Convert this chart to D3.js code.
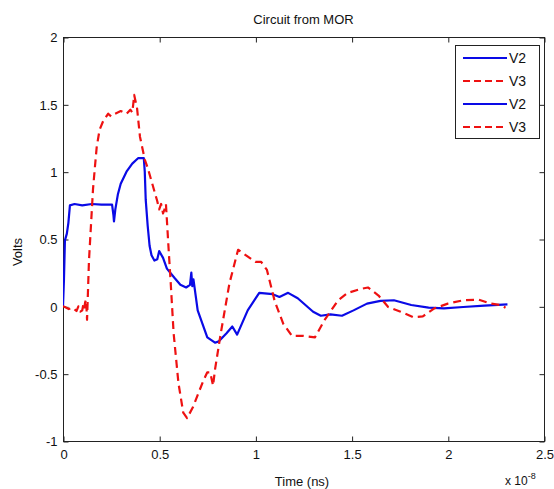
<!DOCTYPE html>
<html>
<head>
<meta charset="utf-8">
<script src="https://cdn.jsdelivr.net/npm/d3@7"></script>
<style>
  html, body { margin: 0; padding: 0; background: #fff; }
  svg text { font-family: "Liberation Sans", Arial, sans-serif; fill: #111; }
</style>
</head>
<body>
<svg id="chart" width="554" height="489"></svg>
<script>
// Time values are in units of 1e-8 s (the axis multiplier shown at bottom right).
const xTicks = [0, 0.5, 1, 1.5, 2, 2.5];
const xTickLabels = ["0", "0.5", "1", "1.5", "2", "2.5"];
const yTicks = [-1, -0.5, 0, 0.5, 1, 1.5, 2];
const yTickLabels = ["-1", "-0.5", "0", "0.5", "1", "1.5", "2"];

const v2Time = [0, 0.005, 0.01, 0.02, 0.028, 0.036, 0.06, 0.1, 0.15, 0.2, 0.255, 0.262, 0.265, 0.272,
  0.285, 0.3, 0.33, 0.36, 0.39, 0.42, 0.425, 0.43, 0.44, 0.45, 0.46, 0.475, 0.49, 0.5, 0.52,
  0.54, 0.58, 0.61, 0.64, 0.66, 0.667, 0.672, 0.678, 0.7, 0.75, 0.79, 0.81, 0.85, 0.88, 0.905,
  0.96, 1.02, 1.09, 1.125, 1.17, 1.22, 1.3, 1.34, 1.39, 1.45, 1.51, 1.58, 1.65, 1.72, 1.81,
  1.9, 1.98, 2.08, 2.19, 2.31];
const v2Volts = [0, 0.2, 0.49, 0.54, 0.62, 0.75, 0.76, 0.75, 0.76, 0.755, 0.755, 0.68, 0.63, 0.72,
  0.83, 0.91, 1.0, 1.06, 1.1, 1.1, 1.0, 0.79, 0.6, 0.45, 0.38, 0.34, 0.35, 0.41, 0.36,
  0.28, 0.21, 0.16, 0.14, 0.16, 0.25, 0.15, 0.2, -0.03, -0.23, -0.27, -0.26, -0.2, -0.15, -0.21,
  -0.03, 0.1, 0.09, 0.07, 0.1, 0.06, -0.04, -0.07, -0.06, -0.07, -0.03, 0.02, 0.04, 0.045, 0.01,
  -0.01, -0.015, -0.005, 0.005, 0.015];

const v3Time = [0, 0.01, 0.03, 0.05, 0.07, 0.08, 0.09, 0.1, 0.105, 0.11, 0.115, 0.12, 0.125,
  0.135, 0.156, 0.165, 0.175, 0.19, 0.21, 0.235, 0.25, 0.27, 0.3, 0.33, 0.35, 0.36, 0.365, 0.37,
  0.385, 0.4, 0.425, 0.44, 0.46, 0.49, 0.5, 0.51, 0.52, 0.53, 0.535, 0.54, 0.55, 0.56, 0.575,
  0.6, 0.625, 0.645, 0.675, 0.73, 0.75, 0.765, 0.78, 0.79, 0.82, 0.865, 0.91, 0.97, 1.0,
  1.03, 1.06, 1.1, 1.145, 1.19, 1.25, 1.31, 1.36, 1.43, 1.48, 1.55, 1.585, 1.64, 1.69, 1.755,
  1.82, 1.87, 1.93, 2.0, 2.08, 2.16, 2.225, 2.275, 2.3];
const v3Volts = [0, -0.005, -0.02, -0.01, -0.035, 0.0, -0.04, -0.03, 0.01, -0.02, 0.03, 0.05, -0.1,
  0.34, 0.87, 1.02, 1.18, 1.31, 1.38, 1.43, 1.41, 1.43, 1.45, 1.43, 1.46, 1.44, 1.5, 1.57,
  1.47, 1.26, 1.09, 1.03, 0.93, 0.78, 0.72, 0.76, 0.69, 0.73, 0.76, 0.64, 0.4, 0.17, -0.2,
  -0.57, -0.79, -0.83, -0.75, -0.55, -0.49, -0.49, -0.59, -0.47, -0.2, 0.17, 0.42, 0.36, 0.33,
  0.33, 0.27, 0.04, -0.13, -0.22, -0.22, -0.23, -0.1, 0.045, 0.1, 0.13, 0.14, 0.08, -0.005, -0.04,
  -0.08, -0.075, -0.015, 0.02, 0.045, 0.05, 0.02, 0.01, -0.01];

const legendLabels = ["V2", "V3", "V2", "V3"];
const seriesColors = { V2: "#0a0ae6", V3: "#ee1111" };

const svg = d3.select("#chart");
const margin = { left: 63, right: 10, top: 37, bottom: 48 };
const W = 554, H = 489;
const plotW = W - margin.left - margin.right;
const plotH = H - margin.top - margin.bottom;

const x = d3.scaleLinear().domain([0, 2.5]).range([margin.left, margin.left + plotW]);
const y = d3.scaleLinear().domain([-1, 2]).range([margin.top + plotH, margin.top]);

const g = svg.append("g");

// Plot box
g.append("rect")
  .attr("x", margin.left + 0.5).attr("y", margin.top + 0.5)
  .attr("width", plotW).attr("height", plotH)
  .attr("fill", "none").attr("stroke", "#222").attr("stroke-width", 1);

const tickLen = 5;
const fmtX = (d, i) => xTickLabels[i];
const fmtY = (d, i) => yTickLabels[i];

// Bottom axis (inward ticks)
const xAxisBottom = d3.axisBottom(x).tickValues(xTicks).tickFormat(fmtX).tickSizeInner(-tickLen).tickSizeOuter(0).tickPadding(8);
const gxb = g.append("g").attr("transform", `translate(0.5,${margin.top + plotH + 0.5})`).call(xAxisBottom);
// Top axis ticks only
const gxt = g.append("g").attr("transform", `translate(0.5,${margin.top + 0.5})`)
  .call(d3.axisTop(x).tickValues(xTicks).tickFormat("").tickSizeInner(-tickLen).tickSizeOuter(0));
// Left axis
const yAxisLeft = d3.axisLeft(y).tickValues(yTicks).tickFormat(fmtY).tickSizeInner(-tickLen).tickSizeOuter(0).tickPadding(6);
const gyl = g.append("g").attr("transform", `translate(${margin.left + 0.5},0.5)`).call(yAxisLeft);
// Right axis ticks only
const gyr = g.append("g").attr("transform", `translate(${margin.left + plotW + 0.5},0.5)`)
  .call(d3.axisRight(y).tickValues(yTicks).tickFormat("").tickSizeInner(-tickLen).tickSizeOuter(0));

[gxb, gxt, gyl, gyr].forEach(a => {
  a.select(".domain").remove();
  a.selectAll(".tick line").attr("stroke", "#222");
  a.selectAll(".tick text").attr("font-size", 13).attr("font-family", "Liberation Sans, Arial, sans-serif").attr("fill", "#111");
});

// Curves
const clipId = "plotClip";
svg.append("defs").append("clipPath").attr("id", clipId)
  .append("rect").attr("x", margin.left).attr("y", margin.top).attr("width", plotW + 1).attr("height", plotH + 1);

const line = d3.line().x(d => x(d[0])).y(d => y(d[1]));
const v2Data = v2Time.map((t, i) => [t, v2Volts[i]]);
const v3Data = v3Time.map((t, i) => [t, v3Volts[i]]);

const curves = g.append("g").attr("clip-path", `url(#${clipId})`);
curves.append("path").datum(v2Data).attr("d", line)
  .attr("fill", "none").attr("stroke", seriesColors.V2).attr("stroke-width", 2.2).attr("stroke-linejoin", "round");
curves.append("path").datum(v3Data).attr("d", line)
  .attr("fill", "none").attr("stroke", seriesColors.V3).attr("stroke-width", 2.2)
  .attr("stroke-dasharray", "8,5").attr("stroke-linejoin", "round");

// Title and axis labels
svg.append("text").attr("x", margin.left + plotW / 2).attr("y", 24).attr("text-anchor", "middle")
  .attr("font-size", 13).text("Circuit from MOR");
svg.append("text").attr("x", 302).attr("y", 486).attr("text-anchor", "middle")
  .attr("font-size", 13).text("Time (ns)");
svg.append("text").attr("transform", "translate(22,252) rotate(-90)").attr("text-anchor", "middle")
  .attr("font-size", 13).text("Volts");
const mult = svg.append("text").attr("x", 505).attr("y", 485).attr("font-size", 12);
mult.append("tspan").text("x 10");
mult.append("tspan").attr("dy", -6).attr("font-size", 9).text("-8");

// Legend
const lg = svg.append("g");
const lgX = 455, lgY = 45, lgW = 84, lgH = 93;
lg.append("rect").attr("x", lgX + 0.5).attr("y", lgY + 0.5).attr("width", lgW).attr("height", lgH)
  .attr("fill", "#fff").attr("stroke", "#222").attr("stroke-width", 1);
legendLabels.forEach((lab, i) => {
  const yy = lgY + 13 + i * 23;
  lg.append("line").attr("x1", lgX + 8).attr("x2", lgX + 52).attr("y1", yy).attr("y2", yy)
    .attr("stroke", seriesColors[lab]).attr("stroke-width", 2.2)
    .attr("stroke-dasharray", lab === "V3" ? "7,4" : null);
  lg.append("text").attr("x", lgX + 54).attr("y", yy + 5).attr("font-size", 14).text(lab);
});
</script>
</body>
</html>
